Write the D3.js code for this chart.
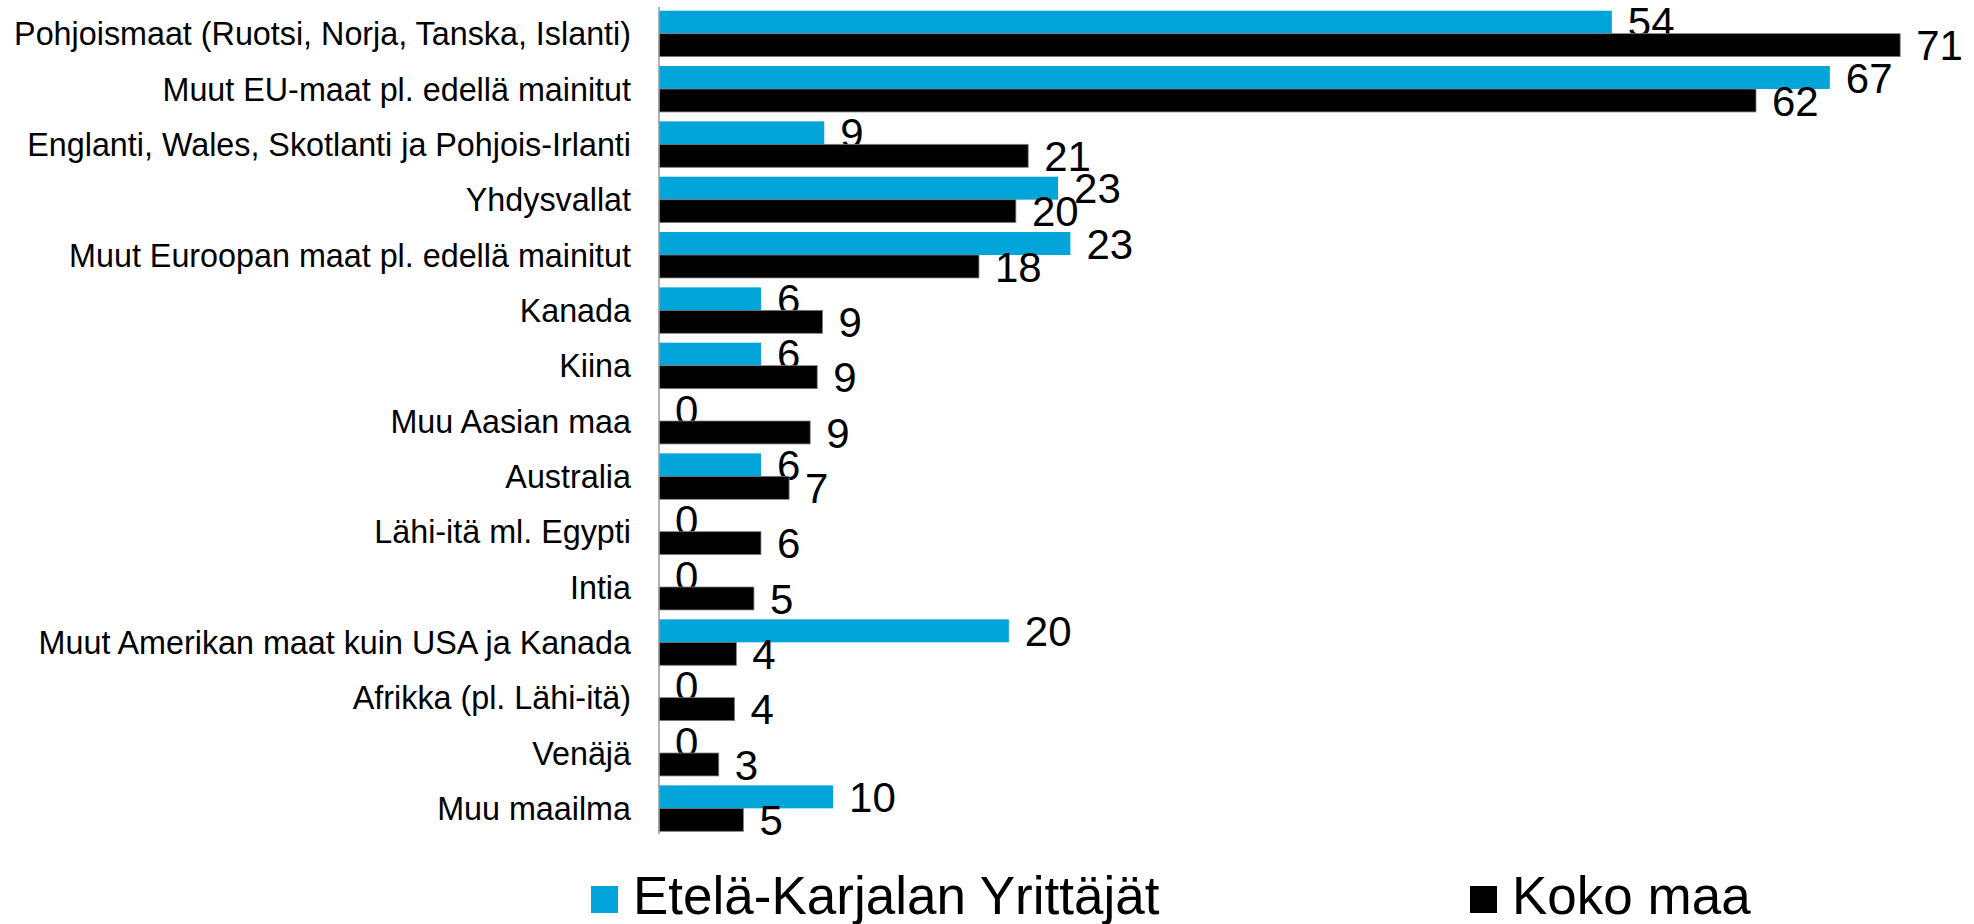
<!DOCTYPE html>
<html>
<head>
<meta charset="utf-8">
<script src="https://cdn.jsdelivr.net/npm/d3@7"></script>
<style>
  body { margin: 0; background: #fff; }
  text { font-family: "Liberation Sans", Arial, sans-serif; fill: #000; }
</style>
</head>
<body>
<div id="chart"></div>
<script>
var categories = [
    "Pohjoismaat (Ruotsi, Norja, Tanska, Islanti)",
    "Muut EU-maat pl. edellä mainitut",
    "Englanti, Wales, Skotlanti ja Pohjois-Irlanti",
    "Yhdysvallat",
    "Muut Euroopan maat pl. edellä mainitut",
    "Kanada",
    "Kiina",
    "Muu Aasian maa",
    "Australia",
    "Lähi-itä ml. Egypti",
    "Intia",
    "Muut Amerikan maat kuin USA ja Kanada",
    "Afrikka (pl. Lähi-itä)",
    "Venäjä",
    "Muu maailma"
];
var seriesNames = ["Etelä-Karjalan Yrittäjät", "Koko maa"];
var seriesColors = ["#02a5da", "#000000"];

// values, labels show them rounded
var etelaKarjala = [54.2, 66.6, 9.4, 22.7, 23.4, 5.8, 5.8, 0, 5.8, 0, 0, 19.9, 0, 0, 9.9];
var kokoMaa = [70.6, 62.4, 21.0, 20.3, 18.2, 9.3, 9.0, 8.6, 7.4, 5.8, 5.4, 4.4, 4.3, 3.4, 4.8];

var w = 1974;
var h = 924;
var axisX = 659;

var svg = d3.select("#chart")
    .append("svg")
    .attr("width", w)
    .attr("height", h);

var xScale = d3.scaleLinear()
    .domain([0, 74.8])
    .range([axisX, w]);

var yScale = d3.scaleBand()
    .domain(categories)
    .range([6, 836])
    .paddingInner(0.17)
    .paddingOuter(0.085);

var ySub = d3.scaleBand()
    .domain(seriesNames)
    .range([0, yScale.bandwidth()]);

var allSeries = [etelaKarjala, kokoMaa];

// category labels
var yAxis = d3.axisLeft(yScale).tickSize(0).tickPadding(28);
var gy = svg.append("g")
    .attr("transform", "translate(" + axisX + ",0)")
    .call(yAxis);
gy.select(".domain").remove();
gy.selectAll("text")
    .style("font-size", "32.3px")
    .attr("dy", "0.36em");

allSeries.forEach(function(values, s) {
    var rows = categories.map(function(c, i) { return { cat: c, value: values[i] }; });
    var g = svg.append("g");

    g.selectAll("rect")
        .data(rows)
        .enter()
        .append("rect")
        .attr("x", xScale(0))
        .attr("y", function(d) { return yScale(d.cat) + ySub(seriesNames[s]); })
        .attr("width", function(d) { return xScale(d.value) - xScale(0); })
        .attr("height", ySub.bandwidth())
        .attr("fill", seriesColors[s])
        .attr("stroke", s == 1 ? "#808080" : "none")
        .attr("stroke-width", 0.8);

    g.selectAll("text")
        .data(rows)
        .enter()
        .append("text")
        .attr("x", function(d) { return xScale(d.value) + 16; })
        .attr("y", function(d) { return yScale(d.cat) + ySub(seriesNames[s]) + ySub.bandwidth() / 2; })
        .attr("dy", "0.36em")
        .style("font-size", "42px")
        .text(function(d) { return Math.round(d.value); });
});

// vertical axis line
svg.append("line")
    .attr("x1", axisX)
    .attr("x2", axisX)
    .attr("y1", 7)
    .attr("y2", 834)
    .attr("stroke", "#9a9a9a")
    .attr("stroke-width", 1.5);

// legend
var legendX = [591, 1470];
var legend = svg.selectAll(".legend")
    .data(seriesNames)
    .enter()
    .append("g")
    .attr("class", "legend")
    .attr("transform", function(d, i) { return "translate(" + legendX[i] + ",886)"; });

legend.append("rect")
    .attr("width", 27)
    .attr("height", 27)
    .attr("fill", function(d, i) { return seriesColors[i]; });

legend.append("text")
    .attr("x", 42)
    .attr("y", 28)
    .style("font-size", "53px")
    .text(function(d) { return d; });
</script>
</body>
</html>
